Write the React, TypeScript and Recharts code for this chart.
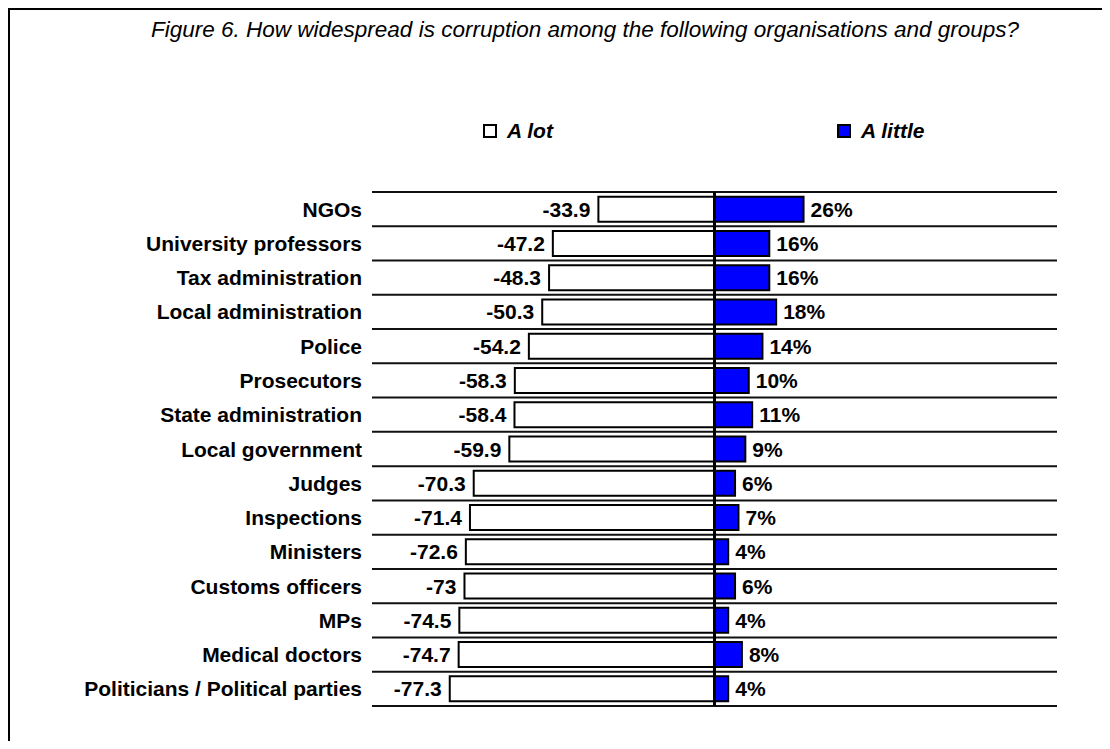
import React from 'react';
import {
  BarChart,
  Bar,
  XAxis,
  YAxis,
  CartesianGrid,
  ReferenceLine,
  LabelList,
} from 'recharts';

const categories = [
  'NGOs',
  'University professors',
  'Tax administration',
  'Local administration',
  'Police',
  'Prosecutors',
  'State administration',
  'Local government',
  'Judges',
  'Inspections',
  'Ministers',
  'Customs officers',
  'MPs',
  'Medical doctors',
  'Politicians / Political parties',
];

const aLot = [-33.9, -47.2, -48.3, -50.3, -54.2, -58.3, -58.4, -59.9, -70.3, -71.4, -72.6, -73, -74.5, -74.7, -77.3];
const aLittle = [26, 16, 16, 18, 14, 10, 11, 9, 6, 7, 4, 6, 4, 8, 4];

const series = [
  { key: 'alot', name: 'A lot', fill: '#ffffff', suffix: '' },
  { key: 'alittle', name: 'A little', fill: '#0000ff', suffix: '%' },
];

const data = categories.map((name, i) => ({ name, alot: aLot[i], alittle: aLittle[i] }));

const FONT = '"Liberation Sans", Arial, Helvetica, sans-serif';

// label drawn outside the far end of the bar, whatever its sign
const makeLabel = (suffix: string) => (props: any) => {
  const { x, y, width, height, value } = props;
  const left = Math.min(x, x + width);
  const right = Math.max(x, x + width);
  const neg = value < 0;
  return (
    <text
      x={neg ? left - 8 : right + 7}
      y={y + height / 2}
      dy="0.36em"
      textAnchor={neg ? 'end' : 'start'}
      fontFamily={FONT}
      fontWeight="bold"
      fontSize={21}
      fill="#000"
    >
      {value}
      {suffix}
    </text>
  );
};

const CategoryTick = (props: any) => {
  const { x, y, payload } = props;
  return (
    <text x={x} y={y} dy="0.36em" textAnchor="end" fontFamily={FONT} fontWeight="bold" fontSize={21} fill="#000">
      {payload.value}
    </text>
  );
};

export default function App() {
  return (
    <div
      style={{
        position: 'relative',
        width: 1094,
        height: 733,
        boxSizing: 'border-box',
        borderLeft: '2px solid #000',
        borderTop: '2px solid #000',
        fontFamily: FONT,
        overflow: 'hidden',
      }}
    >
      <div
        style={{
          position: 'absolute',
          left: 575,
          top: 9,
          transform: 'translateX(-50%)',
          whiteSpace: 'nowrap',
          fontStyle: 'italic',
          fontSize: 22.5,
          lineHeight: '22px',
        }}
      >
        Figure 6. How widespread is corruption among the following organisations and groups?
      </div>

      {series.map((s, i) => (
        <div
          key={s.key}
          style={{
            position: 'absolute',
            left: i === 0 ? 473 : 827,
            top: 110,
            display: 'flex',
            alignItems: 'center',
            whiteSpace: 'nowrap',
          }}
        >
          <span
            style={{
              display: 'inline-block',
              width: 10,
              height: 10,
              border: '2px solid #000',
              background: s.fill,
              marginRight: 10,
            }}
          />
          <span style={{ fontWeight: 'bold', fontStyle: 'italic', fontSize: 21, lineHeight: '22px' }}>{s.name}</span>
        </div>
      ))}

      <div style={{ position: 'absolute', left: 0, top: 0 }}>
        <BarChart
          width={1080}
          height={720}
          data={data}
          layout="vertical"
          stackOffset="sign"
          barCategoryGap="13.5%"
          margin={{ top: 182, right: 33, bottom: 24, left: 10 }}
        >
          <CartesianGrid
            vertical={false}
            stroke="#111"
            strokeWidth={2}
            horizontalCoordinatesGenerator={({ offset }: any) =>
              [...categories, ''].map((_, i) => offset.top + (i * offset.height) / categories.length)
            }
          />
          <XAxis type="number" domain={[-100, 100]} hide />
          <YAxis
            type="category"
            dataKey="name"
            width={352}
            axisLine={false}
            tickLine={false}
            tickSize={0}
            tickMargin={10}
            interval={0}
            tick={<CategoryTick />}
          />
          {series.map((s) => (
            <Bar
              key={s.key}
              dataKey={s.key}
              name={s.name}
              stackId="a"
              fill={s.fill}
              stroke="#000"
              strokeWidth={2}
              isAnimationActive={false}
            >
              <LabelList dataKey={s.key} content={makeLabel(s.suffix)} />
            </Bar>
          ))}
          <ReferenceLine x={0} stroke="#000" strokeWidth={3} />
        </BarChart>
      </div>
    </div>
  );
}
